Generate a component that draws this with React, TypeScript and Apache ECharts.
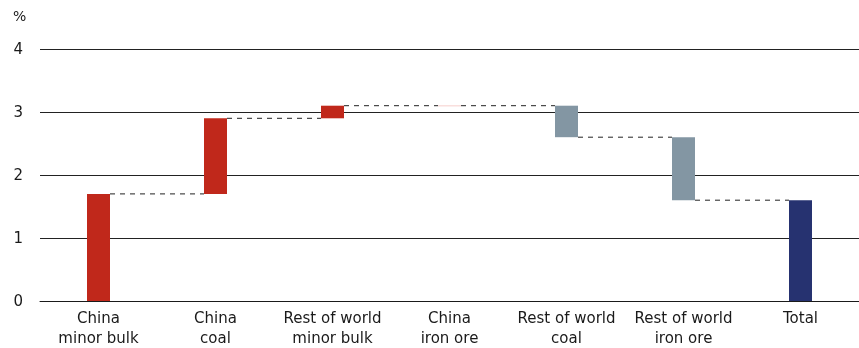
import React, { useEffect, useRef } from "react";
import * as echarts from "echarts";

const categories = [
  "China\nminor bulk",
  "China\ncoal",
  "Rest of world\nminor bulk",
  "China\niron ore",
  "Rest of world\ncoal",
  "Rest of world\niron ore",
  "Total",
];
// invisible base of each waterfall step
const baseValues = [0, 1.7, 2.9, 3.09, 2.6, 1.6, 0];
// visible height of each step
const stepValues = [1.7, 1.2, 0.2, 0.015, 0.5, 1.0, 1.6];
// connector level after each step (to next bar)
const connectorLevels = [1.7, 2.9, 3.1, 3.1, 2.6, 1.6];
const barColors = ["#c0281b", "#c0281b", "#c0281b", "#f6cbc7", "#8396a3", "#8396a3", "#263270"];
const yTicks = [0, 1, 2, 3, 4];

export default function App() {
  const ref = useRef<HTMLDivElement>(null);
  useEffect(() => {
    if (!ref.current) return;
    const chart = echarts.init(ref.current, null, { renderer: "svg" });
    const font = "'DejaVu Sans', sans-serif";
    chart.setOption({
      animation: false,
      grid: { left: 40, right: 0, top: 49, bottom: 44, containLabel: false },
      graphic: [
        {
          type: "text",
          left: 13,
          top: 9,
          style: { text: "%", fontSize: 14, fontFamily: font, fill: "#1a1a1a" },
        },
      ],
      xAxis: {
        type: "category",
        data: categories,
        axisLine: { show: true, lineStyle: { color: "#1a1a1a", width: 1 } },
        axisTick: { show: false },
        axisLabel: {
          color: "#1a1a1a",
          fontSize: 15,
          fontFamily: font,
          lineHeight: 20,
          margin: 7,
          interval: 0,
        },
      },
      yAxis: {
        type: "value",
        min: yTicks[0],
        max: yTicks[yTicks.length - 1],
        interval: 1,
        axisLine: { show: false },
        axisTick: { show: false },
        axisLabel: {
          color: "#1a1a1a",
          fontSize: 15,
          fontFamily: font,
          margin: 17,
        },
        splitLine: { show: true, lineStyle: { color: "#222", width: 1 } },
      },
      series: [
        {
          type: "bar",
          stack: "w",
          data: baseValues,
          itemStyle: { color: "transparent" },
          barWidth: 23,
          silent: true,
        },
        {
          type: "bar",
          stack: "w",
          barWidth: 23,
          data: stepValues.map((v, i) => ({ value: v, itemStyle: { color: barColors[i] } })),
        },
        {
          type: "custom",
          data: connectorLevels.map((v, i) => [i, v]),
          renderItem: (params: any, api: any) => {
            const i = api.value(0);
            const lvl = api.value(1);
            const p0 = api.coord([i, lvl]);
            const p1 = api.coord([i + 1, lvl]);
            const half = 11.5;
            return {
              type: "line",
              shape: { x1: p0[0] + half, y1: p0[1], x2: p1[0] - half, y2: p1[1] },
              style: { stroke: "#222", lineWidth: 1, lineDash: [5, 5] },
            };
          },
          z: 5,
        },
      ],
    });
    return () => chart.dispose();
  }, []);
  return (
    <div
      ref={ref}
      style={{ position: "fixed", left: 0, top: 0, width: 859, height: 348 }}
    />
  );
}
